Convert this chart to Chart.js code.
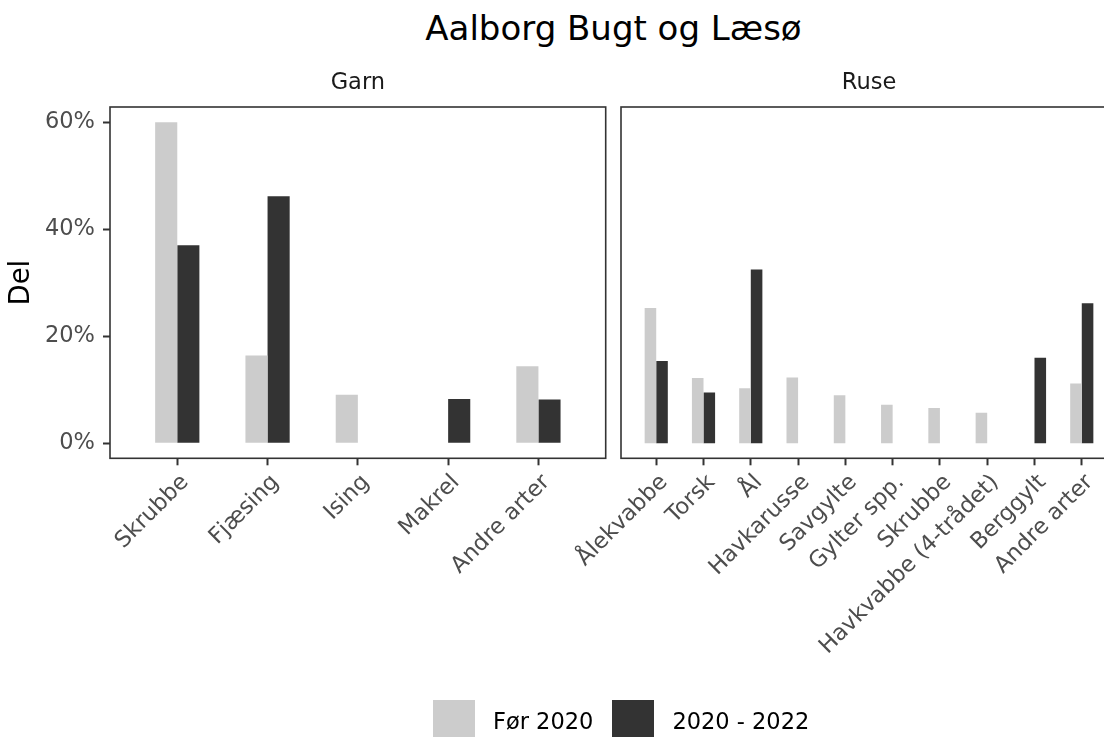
<!DOCTYPE html>
<html lang="da">
<head>
<meta charset="utf-8">
<title>Aalborg Bugt og Læsø</title>
<script src="https://cdn.jsdelivr.net/npm/chart.js@4.4.1/dist/chart.umd.min.js"></script>
<style>
  html, body { margin: 0; padding: 0; background: #fff; }
  body { width: 1104px; height: 737px; overflow: hidden; position: relative; font-family: "DejaVu Sans", sans-serif; }
  canvas { position: absolute; left: 0; top: 0; }
  #title { position: absolute; left: 0; width: 1227px; top: 11px; text-align: center; font-size: 34px; line-height: 34px; color: #000; }
  #legend { position: absolute; left: 433px; top: 700px; display: flex; align-items: center; font-size: 22.5px; color: #000; }
  #legend .item { display: flex; align-items: center; margin-right: 19px; }
  #legend .key { width: 42px; height: 42px; margin-right: 18px; }
</style>
</head>
<body>
<div id="title">Aalborg Bugt og Læsø</div>
<canvas id="garn" width="1104" height="737"></canvas>
<canvas id="ruse" width="1130" height="737"></canvas>
<div id="legend"></div>
<script>
/* Fangstsammensætning, Garn / Ruse */
const seriesNames = ['Før 2020', '2020 - 2022'];
const seriesColors = ['#cccccc', '#333333'];

const garnCats = ['Skrubbe', 'Fjæsing', 'Ising', 'Makrel', 'Andre arter'];
const garnFoer = [60.0, 16.4, 9.1, null, 14.4];
const garnNy = [37.0, 46.2, null, 8.3, 8.2];

const ruseCats = ['Ålekvabbe', 'Torsk', 'Ål', 'Havkarusse', 'Savgylte', 'Gylter spp.', 'Skrubbe', 'Havkvabbe (4-trådet)', 'Berggylt', 'Andre arter'];
const ruseFoer = [25.3, 12.2, 10.3, 12.3, 9.0, 7.2, 6.6, 5.7, null, 11.2];
const ruseNy = [15.4, 9.5, 32.5, null, null, null, null, null, 16.0, 26.2];

const yTicks = [0, 20, 40, 60];

(function () {
  const FONT = '"DejaVu Sans", sans-serif';
  const TOP = 69.4;          // over strip-teksten
  const X_AXIS_H = 250;
  const BOTTOM = 737 - 458.3 - X_AXIS_H;

  const panelFrame = {
    id: 'panelFrame',
    afterDatasetsDraw(chart) {
      const a = chart.chartArea, ctx = chart.ctx;
      ctx.save();
      ctx.strokeStyle = '#333333';
      ctx.lineWidth = 1.6;
      ctx.strokeRect(a.left, a.top, a.right - a.left, a.bottom - a.top);
      ctx.restore();
    },
  };

  function toPoints(vals) {
    return vals.map((v, i) => ({ x: i, y: v }));
  }

  function facet(id, strip, cats, foer, ny, pad, showY) {
    const tickGrid = { drawOnChartArea: false, drawTicks: true, tickLength: 7, tickColor: '#333333', tickWidth: 2 };
    return new Chart(document.getElementById(id), {
      type: 'bar',
      data: {
        datasets: [foer, ny].map((vals, k) => ({
          label: seriesNames[k],
          data: toPoints(vals),
          backgroundColor: seriesColors[k],
          borderWidth: 0,
          categoryPercentage: 0.49,
          barPercentage: 1,
        })),
      },
      options: {
        responsive: false, animation: false, events: [],
        layout: { padding: pad },
        plugins: {
          legend: { display: false },
          tooltip: { enabled: false },
          title: {
            display: true, text: strip, fullSize: false, color: '#1a1a1a',
            font: { family: FONT, size: 22.5, weight: 'normal' },
            padding: { top: 0, bottom: 10.6 },
          },
        },
        scales: {
          x: {
            type: 'linear', offset: false,
            min: -0.745, max: cats.length - 1 + 0.745,
            afterBuildTicks: (s) => { s.ticks = cats.map((c, i) => ({ value: i })); },
            afterFit: (s) => { s.height = X_AXIS_H; s.paddingLeft = 0; s.paddingRight = 0; },
            ticks: {
              autoSkip: false, minRotation: 45, maxRotation: 45,
              color: '#4d4d4d', font: { family: FONT, size: 22.5 },
              padding: 4, labelOffset: 8,
              callback: (v) => cats[v],
            },
            grid: { ...tickGrid, offset: false },
            border: { display: false },
          },
          y: {
            display: showY,
            min: -2.8, max: 62.86,
            afterBuildTicks: (s) => { s.ticks = yTicks.map((v) => ({ value: v })); },
            afterFit: (s) => { s.width = showY ? 110 : 0; },
            ticks: {
              color: '#4d4d4d', font: { family: FONT, size: 22.5 }, padding: 8,
              callback: (v) => v + '%',
            },
            grid: tickGrid,
            border: { display: false },
            title: {
              display: true, text: 'Del', color: '#000',
              font: { family: FONT, size: 27.5 }, padding: { top: 5.5, bottom: 0 },
            },
          },
        },
      },
      plugins: [panelFrame],
    });
  }

  facet('garn', 'Garn', garnCats, garnFoer, garnNy,
    { left: 0, top: TOP, right: 1104 - 605.7, bottom: BOTTOM }, true);
  facet('ruse', 'Ruse', ruseCats, ruseFoer, ruseNy,
    { left: 621, top: TOP, right: 1130 - 1117, bottom: BOTTOM }, false);

  document.getElementById('legend').innerHTML = seriesNames.map((n, k) =>
    `<div class="item"><div class="key" style="background:${seriesColors[k]}"></div><span>${n}</span></div>`
  ).join('');
})();
</script>
</body>
</html>
